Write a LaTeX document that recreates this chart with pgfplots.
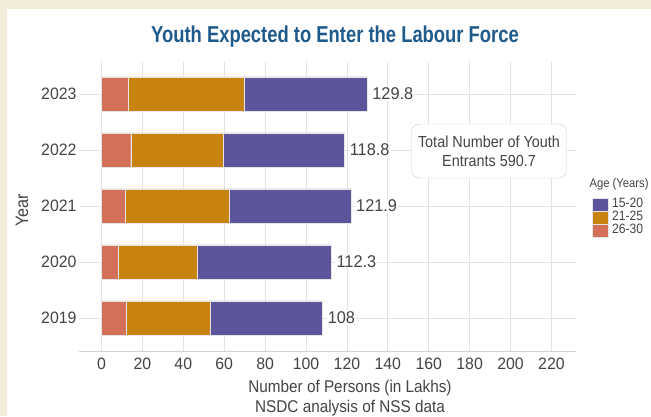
\documentclass[border=0pt]{standalone}
\usepackage{fontspec}
\setmainfont{Liberation Sans}[FakeStretch=0.9]
\newfontfamily\titlefont{Liberation Sans}[FakeStretch=0.8]
\newfontfamily\tickfont{Liberation Sans}[FakeStretch=0.96]
\usepackage{pgfplots}
\pgfplotsset{compat=1.18}

\definecolor{titleblue}{HTML}{1F5A8C}
\definecolor{purp}{HTML}{5D559C}
\definecolor{ora}{HTML}{C8820E}
\definecolor{redd}{HTML}{D4705A}
\definecolor{beige}{HTML}{F2EDDB}
\definecolor{txt}{HTML}{444444}

\pgfplotsset{
    common/.style={
        at={(79pt,65pt)}, anchor=south west,
        scale only axis,
        width=497pt, height=289pt,
        xmin=-11, xmax=232,
        ymin=-0.59, ymax=4.57,
        bar width=34pt,
    },
}

\begin{document}
\begin{tikzpicture}[x=1pt,y=1pt]
\fill[beige] (0,0) rectangle (651,416);
\fill[white] (7,0) rectangle (651,407);
\useasboundingbox (0,0) rectangle (651,416);

\begin{axis}[
    common,
    xbar stacked,
    xtick={0,20,...,220},
    ytick={0,1,2,3,4},
    yticklabels={2019,2020,2021,2022,2023},
    major tick length=0pt,
    axis line style={draw=none},
    grid=major,
    grid style={gray!22, line width=0.8pt},
    /pgf/number format/assume math mode=true,
    tick label style={font=\tickfont\fontsize{16.5}{18}\selectfont, text=txt},
    xticklabel style={yshift=-3pt},
    yticklabel style={xshift=1pt},
    reverse legend,
    legend style={at={(1.032,0.53)}, anchor=north west, draw=none, fill=none,
        font=\fontsize{13.5}{14}\selectfont, text=txt,
        row sep=0pt, inner sep=0pt,
        nodes={inner sep=0.6pt, text height=9pt, text depth=2.6pt},
        /tikz/every odd column/.append style={column sep=3pt}},
    legend cell align=left,
    legend image code/.code={\fill[#1] (0pt,-6.3pt) rectangle (16pt,6.3pt);},
]
\draw[gray!35, line width=0.8pt] (rel axis cs:0,0) -- (rel axis cs:1,0);

\addplot[fill=redd, draw=white!80!gray, line width=0.4pt] coordinates {
    (11.9,0) (8.3,1) (11.7,2) (14.3,3) (13.0,4)
};
\addlegendentry{26-30}
\addplot[fill=ora, draw=white!80!gray, line width=0.4pt] coordinates {
    (41.4,0) (38.6,1) (50.7,2) (45.1,3) (56.7,4)
};
\addlegendentry{21-25}
\addplot[fill=purp, draw=white!80!gray, line width=0.4pt] coordinates {
    (54.7,0) (65.4,1) (59.5,2) (59.4,3) (60.1,4)
};
\addlegendentry{15-20}
\end{axis}

% overlay axis carrying the totals at the bar ends
\begin{axis}[
    common,
    xbar,
    hide axis,
]
\addplot[draw=none, fill=none,
    nodes near coords,
    nodes near coords style={anchor=west, fill=white, inner sep=1.2pt,
        xshift=4pt, font=\tickfont\fontsize{17}{18}\selectfont, text=txt},
    /pgf/number format/assume math mode=true,
    /pgf/number format/fixed,
    /pgf/number format/precision=1] coordinates {
    (108,0) (112.3,1) (121.9,2) (118.8,3) (129.8,4)
};
\end{axis}

\node[font=\titlefont\fontsize{23}{26}\selectfont\bfseries, text=titleblue] at (335,379) {Youth Expected to Enter the Labour Force};
\node[rotate=90, font=\fontsize{18}{19}\selectfont, text=txt] at (22,206) {Year};
\node[font=\fontsize{17}{18}\selectfont, text=txt] at (350,28) {Number of Persons (in Lakhs)};
\node[font=\fontsize{17}{18}\selectfont, text=txt] at (350,8) {NSDC analysis of NSS data};
\node[draw=gray!40, fill=white, rounded corners=8pt, minimum width=155pt, minimum height=54pt,
    align=center, font=\fontsize{16}{19}\selectfont, text=txt] at (489,265)
    {Total Number of Youth\\Entrants 590.7};
\node[anchor=west, font=\fontsize{12.5}{13}\selectfont, text=txt] at (586,232) {Age (Years)};
\end{tikzpicture}
\end{document}
